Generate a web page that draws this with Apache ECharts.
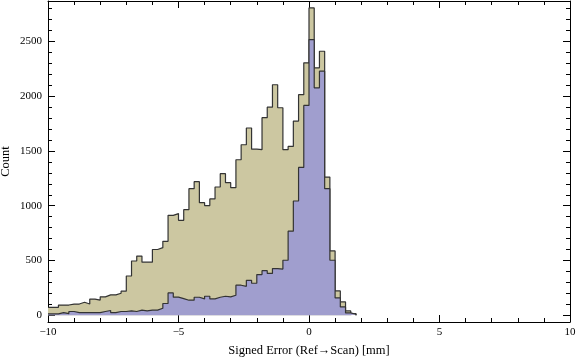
<!DOCTYPE html>
<html>
<head>
<meta charset="utf-8">
<script src="https://cdn.jsdelivr.net/npm/echarts/dist/echarts.min.js"></script>
<style>
  html, body { margin: 0; padding: 0; background: #fff; }
  #chart { width: 576px; height: 362px; }
</style>
</head>
<body>
<div id="chart"></div>
<script>
// histogram bins, 0.2 mm wide from -10
const binStart = -10;
const binWidth = 0.2;

// counts per bin (tan = all, blue = subset)
const allCounts = [
  72, 72, 93, 93, 102, 102, 118, 102, 147, 138,
  168, 186, 186, 201, 220, 358, 495, 540, 484, 484,
  600, 617, 675, 912, 928, 867, 964, 1156, 1220, 1028,
  1001, 1062, 1171, 1293, 1211, 1165, 1420, 1557, 1710, 1517,
  1512, 1804, 1900, 2105, 1895, 1512, 1542, 1773, 2014, 2305,
  2807, 2260, 2411, 1262, 587, 222, 121, 39, 15
];
const subCounts = [
  12, 12, 24, 15, 34, 24, 24, 24, 24, 24,
  34, 43, 24, 34, 34, 40, 34, 46, 40, 46,
  46, 64, 107, 204, 165, 152, 137, 137, 164, 149,
  173, 149, 164, 173, 167, 182, 274, 264, 319, 292,
  371, 407, 382, 426, 421, 502, 768, 1043, 1350, 1916,
  2518, 2077, 2229, 1156, 502, 158, 76, 21, 9
];

const xTicks = [-10, -5, 0, 5, 10];
const yTicks = [0, 500, 1000, 1500, 2000, 2500];

function toSteps(counts) {
  const pts = counts.map((c, i) => [binStart + i * binWidth, c]);
  pts.push([binStart + counts.length * binWidth, 0]);
  return pts;
}

const font = 'Liberation Serif';
const ink = '#000';

const chart = echarts.init(document.getElementById('chart'));

const frameLine = {show: true, onZero: false, lineStyle: {color: ink, width: 1}};
const tickStyle = {inside: true, length: 7, lineStyle: {color: ink, width: 1}};
const minorStyle = {show: true, splitNumber: 5, length: 4, lineStyle: {color: ink, width: 1}};

const option = {
  animation: false,
  grid: [
    {left: 48, right: 6, top: 1, bottom: 40, outerBoundsMode: 'none'},
    // label grid: 0 sits 7px above the frame bottom
    {left: 48, right: 6, top: -13.2, bottom: 46.8, outerBoundsMode: 'none'}
  ],
  xAxis: [
    {
      gridIndex: 0, type: 'value', position: 'bottom',
      min: xTicks[0], max: xTicks[xTicks.length - 1], interval: 5,
      axisLine: frameLine,
      axisTick: tickStyle, minorTick: minorStyle,
      splitLine: {show: false},
      axisLabel: {
        margin: 5, color: ink, fontFamily: font, fontSize: 11,
        formatter: v => v < 0 ? '\u2212' + (-v) : String(v)
      },
      name: 'Signed Error (Ref\u2192Scan) [mm]',
      nameLocation: 'middle', nameGap: 22,
      nameTextStyle: {color: ink, fontFamily: font, fontSize: 12.5}
    },
    {
      gridIndex: 0, type: 'value', position: 'top',
      min: -10, max: 10, interval: 5,
      axisLine: frameLine,
      axisTick: tickStyle, minorTick: minorStyle,
      splitLine: {show: false}, axisLabel: {show: false}
    },
    {gridIndex: 1, type: 'value', min: -10, max: 10, show: false}
  ],
  yAxis: [
    {
      gridIndex: 0, type: 'value', position: 'left', min: -62, max: 2870,
      axisLine: frameLine,
      axisTick: {show: false}, axisLabel: {show: false}, splitLine: {show: false},
      name: 'Count', nameLocation: 'middle', nameGap: 36,
      nameTextStyle: {color: ink, fontFamily: font, fontSize: 12.5}
    },
    {
      gridIndex: 0, type: 'value', position: 'right', min: -62, max: 2870,
      axisLine: frameLine,
      axisTick: {show: false}, axisLabel: {show: false}, splitLine: {show: false}
    },
    {
      gridIndex: 1, type: 'value', position: 'left',
      min: yTicks[0], max: 3000, interval: 500,
      axisLine: {show: false, onZero: false},
      axisTick: tickStyle, minorTick: minorStyle,
      splitLine: {show: false},
      axisLabel: {
        margin: 6, color: ink, fontFamily: font, fontSize: 11,
        showMaxLabel: false, formatter: v => String(v)
      }
    },
    {
      gridIndex: 1, type: 'value', position: 'right',
      min: 0, max: 3000, interval: 500,
      axisLine: {show: false, onZero: false},
      axisTick: tickStyle, minorTick: minorStyle,
      splitLine: {show: false}, axisLabel: {show: false}
    }
  ],
  series: [
    {
      name: 'all', type: 'line', step: 'end',
      xAxisIndex: 0, yAxisIndex: 0,
      data: toSteps(allCounts), symbol: 'none', z: 2,
      lineStyle: {color: '#333', width: 1.2},
      areaStyle: {color: '#ccc7a1', opacity: 1}
    },
    {
      name: 'subset', type: 'line', step: 'end',
      xAxisIndex: 0, yAxisIndex: 0,
      data: toSteps(subCounts), symbol: 'none', z: 3,
      lineStyle: {color: '#333', width: 1.2},
      areaStyle: {color: '#a09ece', opacity: 1}
    }
  ]
};

chart.setOption(option);
</script>
</body>
</html>
